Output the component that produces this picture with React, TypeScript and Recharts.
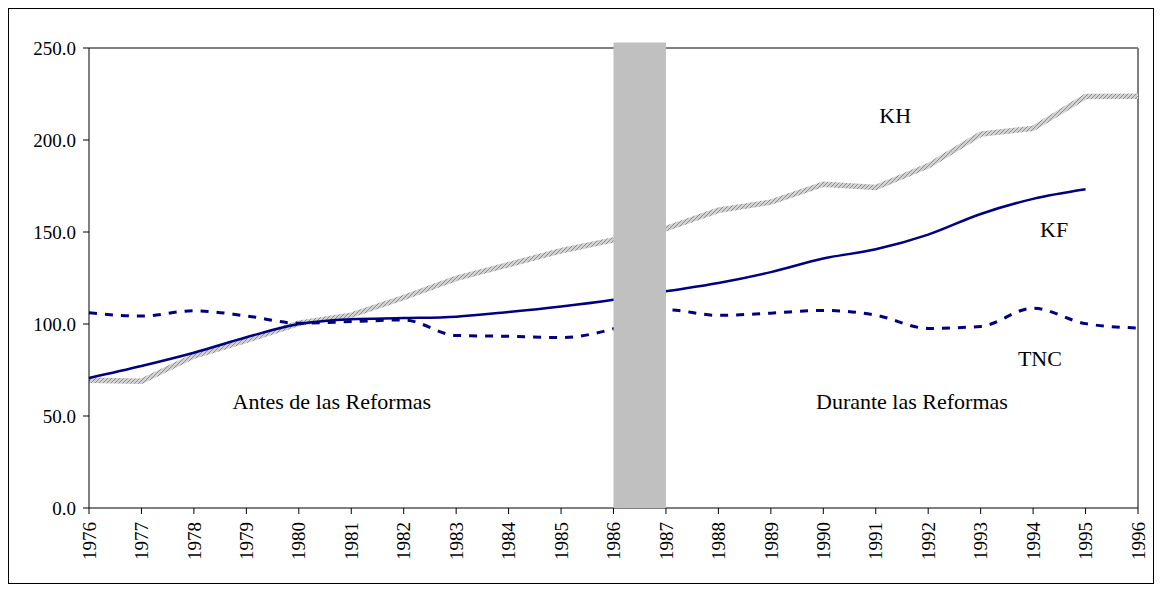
import React from "react";
import {
  ComposedChart,
  Line,
  XAxis,
  YAxis,
  ReferenceArea,
  ReferenceLine,
  ReferenceDot,
} from "recharts";

// años 1976-1996
const years = [
  1976, 1977, 1978, 1979, 1980, 1981, 1982, 1983, 1984, 1985, 1986,
  1987, 1988, 1989, 1990, 1991, 1992, 1993, 1994, 1995, 1996,
];
const kh = [
  69.4, 68.9, 82.6, 91.1, 100.4, 104.8, 114.4, 124.8, 132.3, 139.8, 145.7,
  151.8, 161.8, 166.2, 176.0, 174.2, 186.0, 203.2, 206.3, 223.6, 223.8,
];
const kf = [
  70.7, 77.2, 84.4, 92.8, 100.0, 102.6, 103.2, 104.0, 106.5, 109.5, 113.2,
  117.8, 122.3, 128.2, 135.6, 140.6, 148.6, 159.8, 168.0, 173.2, null,
];
const tnc = [
  106.1, 104.3, 107.2, 104.4, 100.4, 101.3, 102.2, 93.8, 93.3, 92.6, 97.4,
  107.8, 104.7, 105.9, 107.4, 104.8, 97.6, 98.7, 108.6, 100.2, 97.8,
];
const yTicks = [0, 50, 100, 150, 200, 250];

// etiquetas dentro del gráfico (posición en coordenadas de datos)
const notes = [
  { text: "KH", x: 1991.37, y: 213.5 },
  { text: "KF", x: 1994.4, y: 151.3 },
  { text: "TNC", x: 1994.13, y: 81.3 },
  { text: "Antes de las Reformas", x: 1980.63, y: 58 },
  { text: "Durante las Reformas", x: 1991.69, y: 58 },
];

const data = years.map((year, i) => ({
  year,
  KH: kh[i],
  KF: kf[i],
  TNC: tnc[i],
}));

const FONT = "Liberation Serif, serif";

function YearTick({ x, y, payload }: any) {
  return (
    <g transform={`translate(${x},${y})`}>
      <text
        transform="rotate(-90)"
        x={-6}
        y={0}
        dy="0.35em"
        textAnchor="end"
        fill="#000"
        fontSize={19}
        style={{ fontFamily: FONT }}
      >
        {payload.value}
      </text>
    </g>
  );
}

export default function App() {
  return (
    <div
      style={{
        width: 1146,
        height: 576,
        border: "1px solid #000",
        boxSizing: "border-box",
        background: "#fff",
        fontFamily: FONT,
      }}
    >
      <svg width={0} height={0} style={{ position: "absolute" }}>
        <defs>
          <pattern id="khHatch" width={4} height={4} patternUnits="userSpaceOnUse">
            <rect width={4} height={4} fill="#d2d2d2" />
            <path d="M0,4 L4,0" stroke="#8e8e8e" strokeWidth={1} />
          </pattern>
        </defs>
      </svg>
      <ComposedChart
        width={1144}
        height={574}
        data={data}
        margin={{ top: 39, right: 15, bottom: 15, left: 0 }}
        style={{ fontFamily: FONT }}
      >
        <XAxis
          dataKey="year"
          type="number"
          domain={[1976, 1996]}
          ticks={years}
          interval={0}
          height={60}
          stroke="#000"
          tickSize={6}
          tick={<YearTick />}
        />
        <YAxis
          domain={[0, 250]}
          ticks={yTicks}
          width={80}
          stroke="#000"
          tickSize={6}
          tickMargin={7}
          tickFormatter={(v: number) => v.toFixed(1)}
          tick={{ fill: "#000", fontSize: 19, fontFamily: FONT, style: { fontFamily: FONT } }}
        />
        <ReferenceLine y={250} stroke="#808080" strokeWidth={2} />
        <ReferenceLine x={1996} stroke="#808080" strokeWidth={2} />
        <Line
          dataKey="KH"
          type="linear"
          stroke="url(#khHatch)"
          strokeWidth={5.5}
          dot={false}
          isAnimationActive={false}
        />
        <Line
          dataKey="KF"
          type="monotone"
          stroke="#000080"
          strokeWidth={2.5}
          dot={false}
          isAnimationActive={false}
        />
        <Line
          dataKey="TNC"
          type="monotone"
          stroke="#000080"
          strokeWidth={3}
          strokeDasharray="8 8"
          dot={false}
          isAnimationActive={false}
        />
        <ReferenceArea
          x1={1986}
          x2={1987}
          y1={0}
          y2={253}
          fill="#c0c0c0"
          fillOpacity={1}
          ifOverflow="visible"
          zIndex={1000}
        />
        {notes.map((n) => (
          <ReferenceDot
            key={n.text}
            x={n.x}
            y={n.y}
            r={0}
            fill="none"
            stroke="none"
            ifOverflow="visible"
            label={{
              value: n.text,
              position: "center",
              fill: "#000",
              fontSize: 22,
              fontFamily: FONT,
              style: { fontFamily: FONT },
            }}
          />
        ))}
      </ComposedChart>
    </div>
  );
}
